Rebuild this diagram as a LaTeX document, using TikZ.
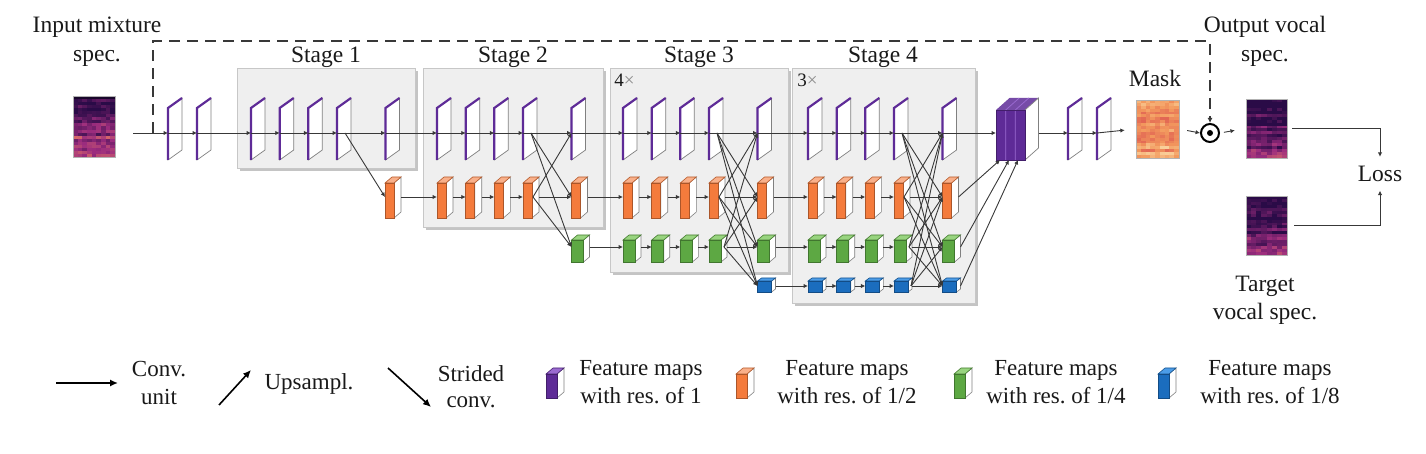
\documentclass[tikz,border=0pt]{standalone}
\usepackage{fontspec}
\setmainfont{Liberation Serif}
\frenchspacing
\usetikzlibrary{arrows.meta,calc}

\definecolor{Pf}{HTML}{5E2B97}
\definecolor{Pt}{HTML}{9A6AD0}
\definecolor{Of}{HTML}{F47B3C}
\definecolor{Ot}{HTML}{F9B08A}
\definecolor{Gf}{HTML}{5DA843}
\definecolor{Gt}{HTML}{98D47F}
\definecolor{Bf}{HTML}{1B6DBE}
\definecolor{Bt}{HTML}{4C9DE8}
\definecolor{stagebg}{HTML}{EFEFEF}
\definecolor{stagesh}{HTML}{C4C4C4}
\definecolor{ln}{HTML}{383838}
\definecolor{edge}{HTML}{808080}
\definecolor{md}{HTML}{2A0B47}
\definecolor{mm}{HTML}{9B2C7E}
\definecolor{mb}{HTML}{F88A5C}
\definecolor{kd}{HTML}{D94B4E}
\definecolor{km}{HTML}{F39A5E}
\definecolor{kb}{HTML}{FCE7B4}

% cube dimensions: w, dx, dy, top, bottom, out
\def\dOw{9}\def\dOx{7}\def\dOy{6}\def\dOt{14}\def\dOb{21}\def\dOo{10}
\def\dGw{12}\def\dGx{6}\def\dGy{5}\def\dGt{7}\def\dGb{15}\def\dGo{15}
\def\dBw{14}\def\dBx{4}\def\dBy{3}\def\dBt{5}\def\dBb{6}\def\dBo{17}
\def\dLw{11}\def\dLx{7}\def\dLy{6}\def\dLt{12}\def\dLb{12}\def\dLo{8}

\newcommand\fmplane[3]{%
  \filldraw[fill=white,draw=edge,line width=0.35pt] (#2,-#3+25) -- (#2+14,-#3+35) -- (#2+14,-#3-17) -- (#2,-#3-27) -- cycle;
  \draw[Pf,line width=1.1pt] (#2,-#3-27) -- (#2,-#3+25) -- (#2+14,-#3+35);
  \coordinate (#1) at (#2,-#3);
  \coordinate (#1o) at (#2+8,-#3);
  \coordinate (#1e) at (#2,-#3);
}

\newcommand\fmcube[5]{%
  \edef\bkw{\csname d#4w\endcsname}\edef\bkx{\csname d#4x\endcsname}%
  \edef\bky{\csname d#4y\endcsname}\edef\bkt{\csname d#4t\endcsname}%
  \edef\bkb{\csname d#4b\endcsname}\edef\bko{\csname d#4o\endcsname}%
  \filldraw[fill=white,draw=edge,line width=0.3pt] (#2+\bkw,-#3+\bkt) -- ++(\bkx,\bky) -- ++(0,-\bkt-\bkb) -- ++(-\bkx,-\bky) -- cycle;
  \filldraw[fill=#5t,draw=#5f!75!black,line width=0.3pt] (#2,-#3+\bkt) -- ++(\bkx,\bky) -- ++(\bkw,0) -- ++(-\bkx,-\bky) -- cycle;
  \filldraw[fill=#5f,draw=#5f!70!black,line width=0.3pt] (#2,-#3+\bkt) rectangle (#2+\bkw,-#3-\bkb);
  \coordinate (#1) at (#2,-#3);
  \coordinate (#1o) at (#2+\bko,-#3);
  \coordinate (#1e) at (#2+\bkw+\bkx,-#3);
}

\newcommand\specgrid[9]{%
  \pgfmathsetmacro\sgw{(#3-#1)/#5}%
  \pgfmathsetmacro\sgh{(#4-#2)/#6}%
  \foreach \j in {1,...,#6}{%
    \pgfmathsetmacro\sgr{rnd}%
    \foreach \i in {1,...,#5}{%
      \pgfmathsetmacro\sgv{max(0,min(1,#8+#9*\j/#6+0.4*\sgr+0.3*rnd))}%
      \pgfmathtruncatemacro\sga{min(100,200*\sgv)}%
      \pgfmathtruncatemacro\sgb{max(0,200*\sgv-100)}%
      \fill[#7b!\sgb!#7m!\sga!#7d] ({#1+(\i-1)*\sgw},{-#2-(\j-1)*\sgh}) rectangle ({#1+\i*\sgw+0.4},{-#2-\j*\sgh-0.4});
    }%
  }%
}

\newcommand\stagebg[4]{%
  \fill[stagesh] (#1+3,-#2-3) rectangle (#3+3,-#4-3);
  \filldraw[fill=stagebg,draw=black!22,line width=0.3pt] (#1,-#2) rectangle (#3,-#4);
}

\begin{document}
\begin{tikzpicture}[x=0.5pt,y=0.5pt,
  conn/.style={draw=ln,line width=0.45pt,-{Latex[length=2.2pt,width=2.2pt]}},
  dashconn/.style={draw=ln,line width=0.75pt,dash pattern=on 5.5pt off 3.5pt,-{Latex[length=2.6pt,width=2.6pt]}},
  legarrow/.style={draw=black,line width=0.8pt,-{Latex[length=4pt,width=3.6pt]}},
  lab/.style={font=\fontsize{11.75}{14}\selectfont,text=black!90,anchor=base,inner sep=0},
  leg/.style={font=\fontsize{11.5}{14}\selectfont,text=black!90,anchor=base,inner sep=0},
  specframe/.style={draw=black!30,line width=0.3pt,inner sep=0,fill=none}
]
\useasboundingbox (0,0) rectangle (1426,-454);
\pgfmathsetseed{11}

% ---------- spectrograms ----------
\specgrid{73}{96}{115}{157}{9}{20}{m}{-0.35}{0.7}
\fill[md!60!black] (73,-96) rectangle (115,-99);
\node[specframe,minimum width=21pt,minimum height=30.5pt] (inspec) at (94,-126.5) {};
\specgrid{1136}{100}{1179}{158}{9}{20}{k}{0.05}{0.15}
\node[specframe,minimum width=21.5pt,minimum height=29pt] (mask) at (1157.5,-129) {};
\specgrid{1246}{99}{1287}{158}{8}{20}{m}{-0.45}{0.5}
\node[specframe,minimum width=20.5pt,minimum height=29.5pt] (outspec) at (1266.5,-128.5) {};
\specgrid{1246}{196}{1287}{255}{8}{20}{m}{-0.45}{0.5}
\node[specframe,minimum width=20.5pt,minimum height=29.5pt] (tgtspec) at (1266.5,-225.5) {};

% ---------- stage backgrounds ----------
\stagebg{237}{68}{415}{168}
\stagebg{423}{68}{603}{227}
\stagebg{610}{68}{788}{272}
\stagebg{792}{68}{975}{303}
\node[lab] (st1lab) at (326,-63) {Stage 1};
\node[lab] (st2lab) at (513,-63) {Stage 2};
\node[lab] (st3lab) at (699,-63) {Stage 3};
\node[lab] (st4lab) at (883,-63) {Stage 4};
\node[lab,anchor=base west,font=\fontsize{9.5}{11}\selectfont] (rep3) at (614,-87) {4\textcolor{black!45}{×}};
\node[lab,anchor=base west,font=\fontsize{9.5}{11}\selectfont] (rep4) at (797,-87) {3\textcolor{black!45}{×}};

% ---------- texts ----------
\node[lab] (inlab1) at (97,-33) {Input mixture};
\node[lab] (inlab2) at (97,-62) {spec.};
\node[lab] (outlab1) at (1265,-33) {Output vocal};
\node[lab] (outlab2) at (1265,-62) {spec.};
\node[lab] (masklab) at (1155,-87) {Mask};
\node[lab] (loss) at (1380,-182) {Loss};
\node[lab] (tgtlab1) at (1265,-292) {Target};
\node[lab] (tgtlab2) at (1265,-320) {vocal spec.};

% ---------- blocks ----------
\fmplane{pa}{168}{133}
\fmplane{pb}{197}{133}
\foreach \s/\sx in {1/251,2/437,3/623,4/808}{
  \foreach \k/\off in {1/0,2/28.7,3/57.3,4/86,5/134.5}{
    \fmplane{s\s p\k}{\sx+\off}{133}
  }
}
\fmcube{s1o5}{385}{197}{O}{O}
\foreach \s/\sx in {2/437,3/623,4/808}{
  \foreach \k/\off in {1/0,2/28.7,3/57.3,4/86,5/134.5}{
    \fmcube{s\s o\k}{\sx+\off}{197}{O}{O}
  }
}
\fmcube{s2g5}{571.5}{247}{G}{G}
\foreach \s/\sx in {3/623,4/808}{
  \foreach \k/\off in {1/0,2/28.7,3/57.3,4/86,5/134.5}{
    \fmcube{s\s g\k}{\sx+\off}{247}{G}{G}
  }
}
\fmcube{s3b5}{757.5}{286}{B}{B}
\foreach \k/\off in {1/0,2/28.7,3/57.3,4/86,5/134.5}{
  \fmcube{s4b\k}{808+\off}{286}{B}{B}
}

% fusion block
\fill[Pf!85!white] (996,-110) -- (1009.5,-98) -- (1038.5,-98) -- (1025,-110) -- cycle;
\filldraw[fill=white,draw=edge,line width=0.35pt] (1025,-110) -- (1038.5,-98) -- (1038.5,-148) -- (1025,-160) -- cycle;
\fill[Pf] (996,-110) rectangle (1025,-160);
\draw[Pt,line width=0.4pt] (1005.7,-110) -- (1005.7,-160) (1015.3,-110) -- (1015.3,-160)
  (1005.7,-110) -- (1019.2,-98) (1015.3,-110) -- (1028.8,-98);
\draw[Pf!70!black,line width=0.35pt] (996,-110) rectangle (1025,-160);
\coordinate (fuse) at (996,-133);
\coordinate (fuseo) at (1038.5,-133);
\coordinate (fuseb1) at (1000,-160);
\coordinate (fuseb2) at (1009,-160);
\coordinate (fuseb3) at (1018,-160);

\fmplane{q1}{1068}{133}
\fmplane{q2}{1097}{133}

% odot
\node[circle,draw=black,line width=1pt,minimum size=9pt,inner sep=0] (odot) at (1210,-133) {};
\fill[black] (odot.center) circle (3);

% ---------- connectors ----------
\coordinate (in) at (133,-133);
\draw[conn] (in) -- (pa);
\draw[conn] (pa) -- (pb);
\draw[conn] (pb) -- (s1p1);
% within-stage horizontal
\foreach \k/\kk in {1/2,2/3,3/4,4/5}{
  \draw[conn] (s1p\k) -- (s1p\kk);
  \foreach \r in {p,o}{\draw[conn] (s2\r\k e) -- (s2\r\kk);}
  \foreach \r in {p,o,g}{\draw[conn] (s3\r\k e) -- (s3\r\kk);}
  \foreach \r in {p,o,g,b}{\draw[conn] (s4\r\k e) -- (s4\r\kk);}
}
% between stages
\draw[conn] (s1p5) -- (s2p1);
\draw[conn] (s2p5) -- (s3p1);
\draw[conn] (s3p5) -- (s4p1);
\draw[conn] (s1o5e) -- (s2o1);
\draw[conn] (s2o5e) -- (s3o1);
\draw[conn] (s3o5e) -- (s4o1);
\draw[conn] (s2g5e) -- (s3g1);
\draw[conn] (s3g5e) -- (s4g1);
\draw[conn] (s3b5e) -- (s4b1);
% exchange units
\draw[conn] (s1p4o) -- (s1o5);
\foreach \srcrow in {p,o}{\foreach \dstrow in {p,o,g}{%
  \ifx\srcrow\dstrow\else\draw[conn] (s2\srcrow4o) -- (s2\dstrow5);\fi}}
\foreach \srcrow in {p,o,g}{\foreach \dstrow in {p,o,g,b}{%
  \ifx\srcrow\dstrow\else\draw[conn] (s3\srcrow4o) -- (s3\dstrow5);\fi}}
\foreach \srcrow in {p,o,g,b}{\foreach \dstrow in {p,o,g,b}{%
  \ifx\srcrow\dstrow\else\draw[conn] (s4\srcrow4o) -- (s4\dstrow5);\fi}}
% fusion
\draw[conn] (s4p5) -- (fuse);
\draw[conn] (s4o5e) -- (fuseb1);
\draw[conn] (s4g5e) -- (fuseb2);
\draw[conn] (s4b5e) -- (fuseb3);
\draw[conn] (fuseo) -- (q1);
\draw[conn] (q1) -- (q2);
\draw[conn,shorten >=5.5pt] (q2) -- (mask.west);
\draw[conn,shorten <=4pt] (mask.east) -- (odot.west);
\draw[conn,shorten <=2pt,shorten >=5.5pt] (odot.east) -- (outspec.west);
\draw[conn,shorten <=2.5pt,shorten >=4.7pt] (outspec.east) -| (loss.north);
\draw[conn,shorten <=3.5pt,shorten >=4pt] (tgtspec.east) -| (loss.south);
% skip connection
\coordinate (dsplit) at (153,-133);
\coordinate (dcorner) at (1210,-41);
\draw[dashconn] (dsplit) |- (dcorner) -- (odot.north);

% ---------- legend ----------
\coordinate (lc1) at (56,-383); \coordinate (lc2) at (118,-383);
\draw[legarrow] (lc1) -- (lc2);
\node[leg] (lconv1) at (159,-377) {Conv.};
\node[leg] (lconv2) at (159,-405) {unit};
\coordinate (lu1) at (219,-405); \coordinate (lu2) at (251,-370);
\draw[legarrow] (lu1) -- (lu2);
\node[leg] (lup) at (309,-390) {Upsampl.};
\coordinate (ls1) at (388,-368); \coordinate (ls2) at (431,-407);
\draw[legarrow] (ls1) -- (ls2);
\node[leg] (lstr1) at (471,-382) {Strided};
\node[leg] (lstr2) at (471,-408) {conv.};
\fmcube{lgp}{546}{386}{L}{P}
\node[leg] (lf1a) at (641,-376) {Feature maps};
\node[leg] (lf1b) at (641,-404) {with res. of 1};
\fmcube{lgo}{736}{386}{L}{O}
\node[leg] (lf2a) at (847,-376) {Feature maps};
\node[leg] (lf2b) at (847,-404) {with res. of 1/2};
\fmcube{lgg}{954}{386}{L}{G}
\node[leg] (lf3a) at (1056,-376) {Feature maps};
\node[leg] (lf3b) at (1056,-404) {with res. of 1/4};
\fmcube{lgb}{1158}{386}{L}{B}
\node[leg] (lf4a) at (1270,-376) {Feature maps};
\node[leg] (lf4b) at (1270,-404) {with res. of 1/8};
\end{tikzpicture}
\end{document}
